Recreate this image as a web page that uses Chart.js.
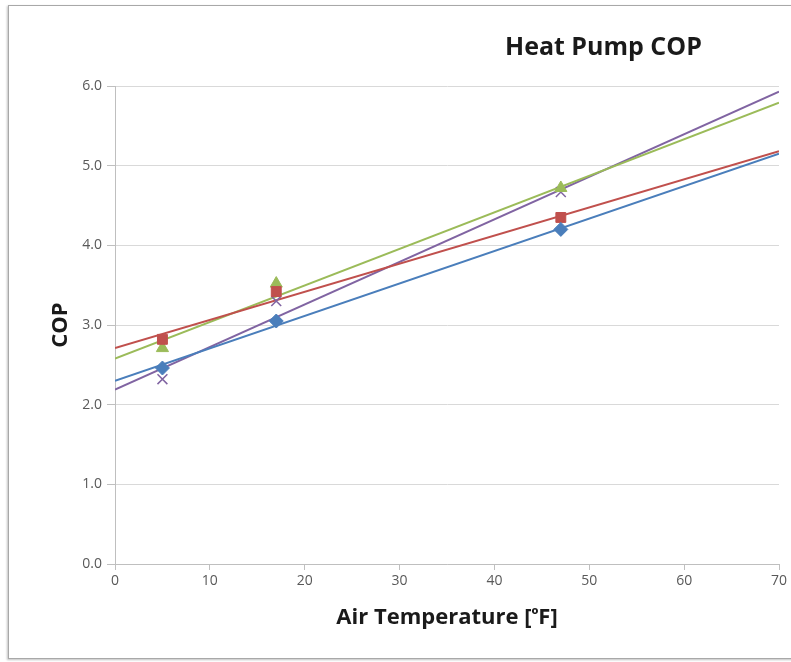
<!DOCTYPE html>
<html>
<head>
<meta charset="utf-8">
<script src="https://cdn.jsdelivr.net/npm/chart.js@4"></script>
<style>
    html, body { margin: 0; padding: 0; width: 791px; height: 662px; overflow: hidden; background: #fff; }
    #frame {
        position: absolute; left: 8px; top: 5px; width: 820px; height: 652px;
        border: 1px solid #a8a8a8; box-shadow: -1px 1px 2px rgba(0,0,0,0.25);
    }
    #title {
        position: absolute; left: 505px; top: 28px;
        font: bold 25px "Open Sans", Lato, sans-serif; color: #1a1a1a;
    }
    #wrap { position: absolute; left: 0; top: 0; width: 800px; height: 662px; }
</style>
</head>
<body>
<div id="frame"></div>
<div id="wrap"><canvas id="cop-chart"></canvas></div>
<div id="title">Heat Pump COP</div>
<script>
// --- DATA ---
const temps = [5, 17, 47];
const seriesNames = ['Unit A', 'Unit B', 'Unit C', 'Unit D'];
const copBlue = [2.46, 3.05, 4.20];
const copRed = [2.82, 3.42, 4.35];
const copGreen = [2.71, 3.52, 4.72];
const copPurple = [2.32, 3.30, 4.67];
// trendline ends, at x = 0 and x = 70
const trendX = [0, 70];
const trendBlue = [2.30, 5.15];
const trendRed = [2.71, 5.18];
const trendGreen = [2.58, 5.79];
const trendPurple = [2.19, 5.93];
const xTicks = [0, 10, 20, 30, 40, 50, 60, 70];
const yTicks = [0, 1, 2, 3, 4, 5, 6];

// --- STYLE ---
const series = [
    { name: seriesNames[0], values: copBlue, trend: trendBlue, color: '#4a7ebb', style: 'rectRot', radius: 7 },
    { name: seriesNames[1], values: copRed, trend: trendRed, color: '#c0504d', style: 'rect', radius: 7 },
    { name: seriesNames[2], values: copGreen, trend: trendGreen, color: '#9bbb59', style: 'triangle', radius: 7 },
    { name: seriesNames[3], values: copPurple, trend: trendPurple, color: '#8064a2', style: 'crossRot', radius: 7 },
];

const datasets = [];
series.forEach(s => {
    datasets.push({
        label: s.name + ' trend',
        data: trendX.map((x, i) => ({ x, y: s.trend[i] })),
        showLine: true,
        borderColor: s.color,
        borderWidth: 2,
        pointRadius: 0,
        order: 2,
    });
    datasets.push({
        label: s.name,
        data: temps.map((x, i) => ({ x, y: s.values[i] })),
        showLine: false,
        pointStyle: s.style,
        pointRadius: s.radius,
        backgroundColor: s.color,
        borderColor: s.color,
        borderWidth: s.style === 'crossRot' ? 1.5 : 1,
        order: 1,
    });
});

const fontFamily = '"Open Sans", Lato, sans-serif';
const tickFont = { family: fontFamily, size: 14 };
const axisTitleFont = { family: fontFamily, size: 22, weight: 'bold' };

new Chart(document.getElementById('cop-chart').getContext('2d'), {
    type: 'scatter',
    data: { datasets },
    options: {
        responsive: true,
        maintainAspectRatio: false,
        animation: false,
        layout: { padding: { left: 44, top: 86, right: 21, bottom: 27 } },
        plugins: { legend: { display: false }, tooltip: { enabled: false } },
        scales: {
            x: {
                type: 'linear',
                min: xTicks[0],
                max: xTicks[xTicks.length - 1],
                afterBuildTicks: axis => { axis.ticks = xTicks.map(v => ({ value: v })); },
                afterFit: axis => { axis.height = 71; },
                grid: { drawOnChartArea: false, drawTicks: true, tickLength: 6, color: '#bfbfbf' },
                border: { color: '#bfbfbf', width: 1 },
                ticks: { color: '#595959', font: tickFont, padding: 3, maxRotation: 0 },
                title: { display: true, text: 'Air Temperature [ᵒF]', color: '#1a1a1a', font: axisTitleFont },
            },
            y: {
                min: yTicks[0],
                max: yTicks[yTicks.length - 1],
                afterBuildTicks: axis => { axis.ticks = yTicks.map(v => ({ value: v })); },
                afterFit: axis => { axis.width = 71; },
                grid: { color: '#d9d9d9', drawTicks: true, tickLength: 8, tickColor: '#bfbfbf' },
                border: { color: '#bfbfbf', width: 1 },
                ticks: { color: '#595959', font: tickFont, padding: 5, callback: v => v.toFixed(1) },
                title: { display: true, text: 'COP', color: '#1a1a1a', font: axisTitleFont },
            },
        },
    },
});
</script>
</body>
</html>
